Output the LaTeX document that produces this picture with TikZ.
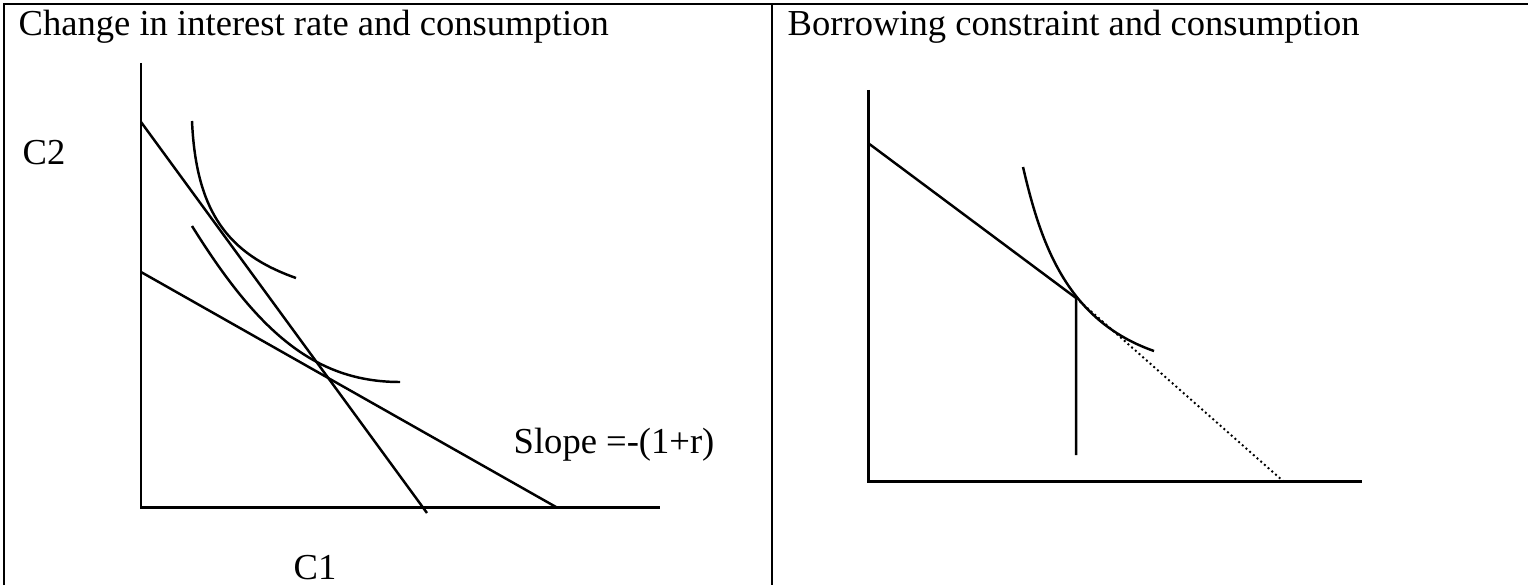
\documentclass[tikz,border=0pt]{standalone}
\usepackage{fontspec}
\setmainfont{Liberation Serif}
\begin{document}
\begin{tikzpicture}[x=0.01cm,y=-0.01cm,
  frame/.style={line width=0.8pt},
  axis/.style={line width=0.85pt},
  curve/.style={line width=0.7pt},
  dotline/.style={line width=0.55pt,dash pattern=on 0.55pt off 0.85pt},
  lbl/.style={font=\fontsize{10.4}{12}\selectfont,inner sep=0pt,anchor=base west}]
\useasboundingbox (0,0) rectangle (1528,585);
% table frame
\draw[frame] (4,585) -- (4,4) -- (1528,4);
\draw[frame] (772,4) -- (772,585);
% titles
\node[lbl] (t1) at (18,36) {Change in interest rate and consumption};
\node[lbl] (t2) at (787,36) {Borrowing constraint and consumption};
% ---- left panel ----
\coordinate (lo) at (141,507);
\coordinate (ltop) at (141,63);
\coordinate (lright) at (660,507);
\draw[axis] (ltop) -- (lo) -- (lright);
\coordinate (b1s) at (141,122);
\coordinate (b1e) at (427,513);
\coordinate (b2s) at (141,272);
\coordinate (b2e) at (556,507);
\draw[curve] (b1s) -- (b1e);
\draw[curve] (b2s) -- (b2e);
\coordinate (ic1s) at (192,121);
\coordinate (ic1e) at (296,278);
\draw[curve] (ic1s) .. controls (196,212) and (228,254) .. (ic1e);
\coordinate (ic2s) at (192,226);
\coordinate (ic2e) at (400,382);
\draw[curve] (ic2s) .. controls (258,332) and (315,382) .. (ic2e);
\node[lbl] (c2) at (22,164) {C2};
\node[lbl] (c1) at (293,579) {C1};
\node[lbl] (slope) at (513,453) {Slope =-(1+r)};
% ---- right panel ----
\coordinate (ro) at (868,481);
\coordinate (rtop) at (868,90);
\coordinate (rright) at (1362,481);
\draw[axis] (rtop) -- (ro) -- (rright);
\coordinate (rb) at (868,143);
\coordinate (kink) at (1076,298);
\coordinate (kbot) at (1076,455);
\coordinate (dend) at (1283,481);
\draw[curve] (rb) -- (kink) -- (kbot);
\draw[dotline] (kink) -- (dend);
\coordinate (ric1s) at (1023,167);
\coordinate (ric1e) at (1154,351);
\draw[curve] (ric1s) .. controls (1040,240) and (1065,320) .. (ric1e);
\end{tikzpicture}
\end{document}
